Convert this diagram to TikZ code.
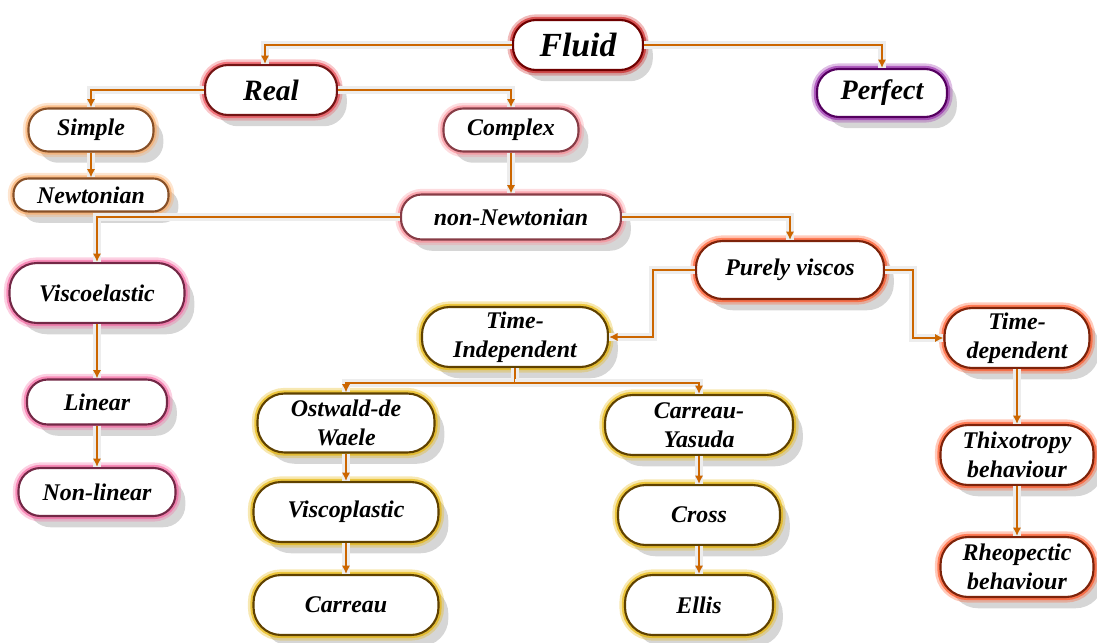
\documentclass[tikz,border=0pt]{standalone}
\usepackage{fontspec}
\setmainfont{Liberation Serif}
\usetikzlibrary{shadows,arrows.meta}

\definecolor{linkorange}{RGB}{204,102,0}
\definecolor{fluidglow}{RGB}{205,30,30}
\definecolor{fluidline}{RGB}{110,0,0}
\definecolor{perfglow}{RGB}{150,40,170}
\definecolor{perfline}{RGB}{85,0,95}
\definecolor{realglow}{RGB}{235,70,80}
\definecolor{realline}{RGB}{115,20,20}
\definecolor{simpglow}{RGB}{250,170,100}
\definecolor{simpline}{RGB}{135,80,40}
\definecolor{cplxglow}{RGB}{250,140,150}
\definecolor{cplxline}{RGB}{135,60,70}
\definecolor{veglow}{RGB}{245,100,160}
\definecolor{veline}{RGB}{115,40,70}
\definecolor{pvglow}{RGB}{255,80,30}
\definecolor{pvline}{RGB}{125,35,10}
\definecolor{tiglow}{RGB}{230,180,0}
\definecolor{tiline}{RGB}{95,65,0}

\tikzset{
  base/.style={rectangle, fill=white, line width=1.5pt, align=center, inner sep=1pt,
    font=\fontsize{17}{20.5}\selectfont\bfseries\itshape,
    drop shadow={shadow xshift=7pt, shadow yshift=-8pt, fill=black, opacity=0.16}},
  glow/.style 2 args={base, draw=#2,
    preaction={draw=#1, line width=8pt, opacity=0.3},
    preaction={draw=#1, line width=4.5pt, opacity=0.65}},
  sz/.style 2 args={minimum width=#1*0.025cm, minimum height=#2*0.025cm,
    rounded corners=#2*0.0115cm},
  fluidbox/.style={glow={fluidglow}{fluidline}},
  perfbox/.style={glow={perfglow}{perfline}},
  realbox/.style={glow={realglow}{realline}},
  simpbox/.style={glow={simpglow}{simpline}},
  cplxbox/.style={glow={cplxglow}{cplxline}},
  vebox/.style={glow={veglow}{veline}},
  pvbox/.style={glow={pvglow}{pvline}},
  tibox/.style={glow={tiglow}{tiline}},
  link/.style={draw=linkorange, line width=1.3pt, -{Latex[length=6pt,width=6pt]},
    preaction={draw=black!7, line width=6pt, -}}
}

\begin{document}
\begin{tikzpicture}[x=0.025cm, y=-0.025cm]
  \useasboundingbox (0,0) rectangle (1097,643);

  % Fluid, real, perfect
    \node[fluidbox, sz={130}{50}, font=\fontsize{24}{28}\selectfont\bfseries\itshape] (fluid) at (578,45) {Fluid};
    \node[perfbox, sz={130}{48}, font=\fontsize{20}{24}\selectfont\bfseries\itshape] (perfect) at (882,93) {Perfect};
    \node[realbox, sz={132}{50}, font=\fontsize{21}{25}\selectfont\bfseries\itshape] (real) at (271,90) {Real};

  % Simple / complex
    \node[simpbox, sz={125}{43}] (simple) at (91,130) {Simple};
    \node[simpbox, sz={155}{33}] (newton) at (91,195) {Newtonian};
    \node[cplxbox, sz={135}{43}] (complex) at (511,130) {Complex};
    \node[cplxbox, sz={220}{45}] (nonnewton) at (511,217) {non-Newtonian};

  % Viscoelastic branch
    \node[vebox, sz={175}{60}] (visco) at (97,293) {Viscoelastic};
    \node[vebox, sz={140}{45}] (linear) at (97,402) {Linear};
    \node[vebox, sz={157}{48}] (nonlin) at (97,492) {Non-linear};

  % Purely viscous branch
    \node[pvbox, sz={188}{58}] (purely) at (790,270) {Purely viscos};
    \node[tibox, sz={186}{60}] (tindep) at (515,337) {Time-\\Independent};
    \node[pvbox, sz={145}{60}] (tdep) at (1017,338) {Time-\\dependent};
    \node[pvbox, sz={153}{60}] (thixo) at (1017,455) {Thixotropy\\behaviour};
    \node[pvbox, sz={153}{60}] (rheo) at (1017,567) {Rheopectic\\behaviour};

  % Time-independent models
    \node[tibox, sz={177}{59}] (ostwald) at (346,423) {Ostwald-de\\Waele};
    \node[tibox, sz={185}{60}] (viscop) at (346,512) {Viscoplastic};
    \node[tibox, sz={185}{60}] (carreau) at (346,605) {Carreau};
    \node[tibox, sz={188}{60}] (carya) at (699,425) {Carreau-\\Yasuda};
    \node[tibox, sz={162}{60}] (cross) at (699,515) {Cross};
    \node[tibox, sz={148}{60}] (ellis) at (699,605) {Ellis};

  % Connectors
    \draw[link] (fluid.west) -| ([xshift=-6*0.025cm]real.north);
    \draw[link] (fluid.east) -| (perfect.north);
    \draw[link] (real.west) -| (simple.north);
    \draw[link] (real.east) -| (complex.north);
    \draw[link] (simple) -- (newton);
    \draw[link] (complex) -- (nonnewton);
    \draw[link] (nonnewton.west) -| (visco.north);
    \draw[link] (nonnewton.east) -| (purely.north);
    \draw[link] (visco) -- (linear);
    \draw[link] (linear) -- (nonlin);
    \draw[link] (purely.west) -- ++(-42,0) |- (tindep.east);
    \draw[link] (purely.east) -- ++(28,0) |- (tdep.west);
    \draw[link] (tdep) -- (thixo);
    \draw[link] (thixo) -- (rheo);
    \path (tindep.south) ++(0,15) coordinate (tisplit);
    \draw[link] (tindep.south) -- (tisplit) -| (ostwald.north);
    \draw[link] (tisplit) -| (carya.north);
    \draw[link] (ostwald) -- (viscop);
    \draw[link] (viscop) -- (carreau);
    \draw[link] (carya) -- (cross);
    \draw[link] (cross) -- (ellis);

\end{tikzpicture}
\end{document}
